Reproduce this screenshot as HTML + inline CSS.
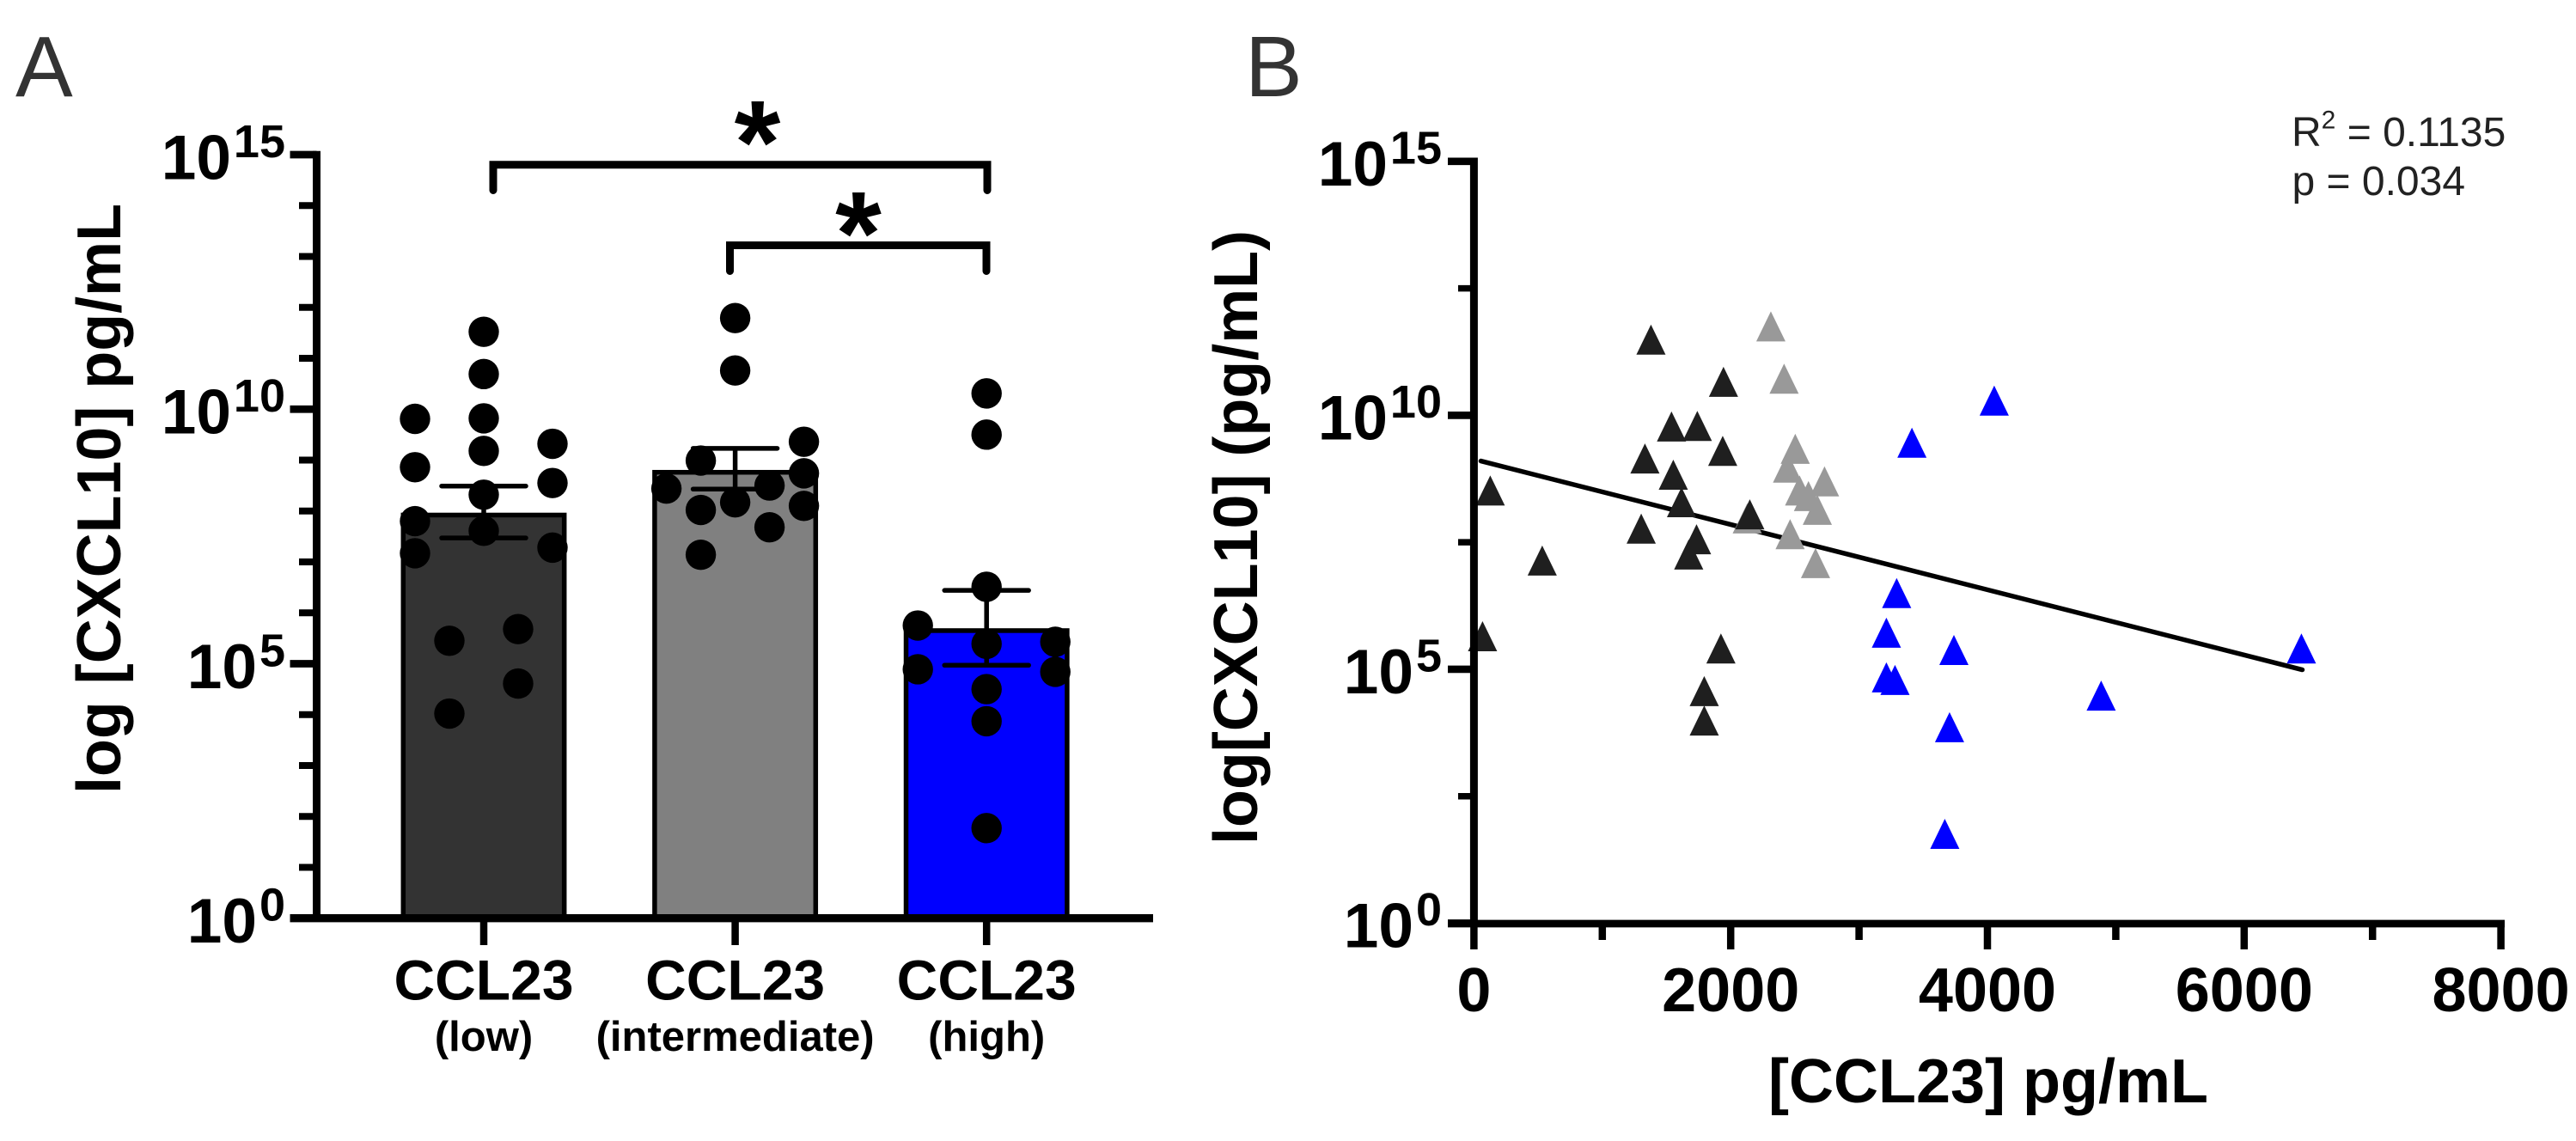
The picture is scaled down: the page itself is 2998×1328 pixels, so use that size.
<!DOCTYPE html>
<html lang="en">
<head>
<meta charset="utf-8">
<title>CXCL10 vs CCL23</title>
<style>
html,body{margin:0;padding:0;background:#fff;width:2998px;height:1328px;overflow:hidden}
svg{display:block}
text{font-family:"Liberation Sans",Arial,sans-serif}
.b{font-weight:bold;fill:#000}
</style>
</head>
<body>
<svg id="figure" xmlns="http://www.w3.org/2000/svg" width="2998" height="1328" viewBox="0 0 2998 1328">
  <rect x="0" y="0" width="2998" height="1328" fill="#fff"/>
  <text x="18" y="112" font-size="100" fill="#333">A</text>
  <text x="1449" y="112" font-size="100" fill="#333">B</text>

  <g id="panelA"></g>
  <g id="panelB"></g>

  <text class="b" font-size="72" text-anchor="middle" textLength="687" lengthAdjust="spacingAndGlyphs" transform="translate(140 580.5) rotate(-90)">log [CXCL10] pg/mL</text>
  <text class="b" font-size="72" text-anchor="middle" textLength="715" lengthAdjust="spacingAndGlyphs" transform="translate(1463 625.5) rotate(-90)">log[CXCL10] (pg/mL)</text>
  <text class="b" font-size="72" text-anchor="middle" x="2314" y="1283">[CCL23] pg/mL</text>

  <text x="2667" y="170" font-size="48" fill="#222">R<tspan font-size="30" dy="-20.7">2</tspan><tspan dy="20.7"> = 0.1135</tspan></text>
  <text x="2667.5" y="227" font-size="48" fill="#222">p = 0.034</text>

  <text class="b" font-size="138" text-anchor="middle" x="881.5" y="213">*</text>
  <text class="b" font-size="138" text-anchor="middle" x="999" y="319">*</text>
</svg>

<script>
/* ---------- Panel A data (values are log10 of pg/mL) ---------- */
const barCategories = ["CCL23", "CCL23", "CCL23"];
const barSubLabels = ["(low)", "(intermediate)", "(high)"];
const barColors = ["#333333", "#808080", "#0000ff"];
const barMeans = [7.92, 8.76, 5.65];
const barErrUpper = [8.49, 9.23, 6.44];
const barErrLower = [7.47, 8.43, 4.97];
const lowDots = [11.52, 10.69, 9.82, 9.81, 9.18, 9.32, 8.86, 8.55, 8.32, 7.80, 7.61, 7.17, 7.28, 5.68, 5.45, 4.61, 4.02];
const lowDotColumns = [0, 0, 0, -1, 0, 1, -1, 1, 0, -1, 0, -1, 1, 0.5, -0.5, 0.5, -0.5];
const intermediateDots = [11.79, 10.76, 9.36, 8.99, 8.74, 8.50, 8.44, 8.17, 8.02, 8.10, 7.68, 7.14];
const intermediateDotColumns = [0, 0, 1, -0.5, 1, 0.5, -1, 0, -0.5, 1, 0.5, -0.5];
const highDots = [10.31, 9.50, 6.51, 5.75, 5.43, 5.39, 4.89, 4.84, 4.50, 3.87, 1.77];
const highDotColumns = [0, 0, 0, -1, 1, 0, -1, 1, 0, 0, 0];
const yMajorExponents = [0, 5, 10, 15];
const yMajorLabels = ["0", "5", "10", "15"];
const yMinorExponentsA = [1, 2, 3, 4, 6, 7, 8, 9, 11, 12, 13, 14];
const yMinorExponentsB = [2.5, 7.5, 12.5];

/* ---------- Panel B data ---------- */
const xMajorTicks = [0, 2000, 4000, 6000, 8000];
const xTickLabels = ["0", "2000", "4000", "6000", "8000"];
const xMinorTicks = [1000, 3000, 5000, 7000];
const lowCCL23 = [1379, 1944, 1539, 1740, 1938, 1332, 1553, 127, 1617, 2149, 1303, 1734, 1673, 532, 67, 1924, 1794, 1794];
const lowCXCL10 = [11.49, 10.66, 9.78, 9.79, 9.30, 9.15, 8.83, 8.52, 8.29, 8.05, 7.77, 7.56, 7.26, 7.14, 5.65, 5.41, 4.57, 3.99];
const midCCL23 = [2313, 2416, 2503, 2443, 2731, 2537, 2606, 2675, 2129, 2463, 2661];
const midCXCL10 = [11.75, 10.72, 9.34, 8.97, 8.70, 8.52, 8.41, 8.14, 7.97, 7.66, 7.09];
const highCCL23 = [4053, 3412, 3293, 3213, 3739, 6446, 3213, 3280, 4886, 3705, 3668];
const highCXCL10 = [10.29, 9.46, 6.50, 5.72, 5.38, 5.41, 4.84, 4.79, 4.48, 3.86, 1.76];
const fitLineX = [54, 6453];
const fitLineY = [9.10, 4.99];

/* ---------- Helpers and scales ---------- */
const NS = "http://www.w3.org/2000/svg";
function make(parent, tag, attrs) {
  const el = document.createElementNS(NS, tag);
  for (const k in attrs) el.setAttribute(k, attrs[k]);
  parent.appendChild(el);
  return el;
}
const yA = e => 1068.7 - e * (1068.7 - 180) / 15;
const bandA = i => 563 + i * 292.6;
const yB = e => 1074.5 - e * (1074.5 - 187.8) / 15;
const xB = v => 1715.4 + v * (2910.6 - 1715.4) / 8000;

function tickLabel(parent, right, baseline, sup) {
  const t = make(parent, "text", {x: right, y: baseline, "text-anchor": "end", "font-size": 73, "class": "b"});
  
  
  const a = make(t, "tspan", {});
  a.textContent = "10";
  const b = make(t, "tspan", {"font-size": 54, dy: -25.5, dx: 3});
  b.textContent = sup;
}

/* ---------- Panel A ---------- */
const A = document.getElementById("panelA");
const dotSets = [lowDots, intermediateDots, highDots];
const dotColumnSets = [lowDotColumns, intermediateDotColumns, highDotColumns];

barMeans.forEach((m, i) => {
  const c = bandA(i);
  const bar = make(A, "rect", {x: c - 93.7, y: yA(m), width: 187.4, height: 1068.7 - yA(m), fill: barColors[i], stroke: "#000", "stroke-width": 5.5});
  
  
});
dotSets.forEach((set, i) => {
  set.forEach((v, j) => {
    const d = make(A, "circle", {cx: bandA(i) + dotColumnSets[i][j] * 80, cy: yA(v), r: 17.7, fill: "#000"});
    
    
  });
});
barMeans.forEach((m, i) => {
  const c = bandA(i);
  const path = "M" + c + " " + yA(barErrUpper[i]) + "V" + yA(barErrLower[i]) +
    "M" + (c - 49) + " " + yA(barErrUpper[i]) + "H" + (c + 49) +
    "M" + (c - 49) + " " + yA(barErrLower[i]) + "H" + (c + 49);
  const e = make(A, "path", {d: path, stroke: "#000", "stroke-width": 5.5, "stroke-linecap": "round", fill: "none"});
  
  
});

const axisAY = make(A, "line", {x1: 368.5, x2: 368.5, y1: 175.7, y2: 1073, stroke: "#000", "stroke-width": 9});


const axisAX = make(A, "line", {x1: 337.5, x2: 1342, y1: 1068.7, y2: 1068.7, stroke: "#000", "stroke-width": 9.3});



yMajorExponents.forEach((e, i) => {
  const t = make(A, "line", {x1: 337.5, x2: 368.5, y1: yA(e), y2: yA(e), stroke: "#000", "stroke-width": 8.7});
  
  
  tickLabel(A, 332, yA(e) + 28.3, yMajorLabels[i]);
});
yMinorExponentsA.forEach(e => {
  const t = make(A, "line", {x1: 348, x2: 368.5, y1: yA(e), y2: yA(e), stroke: "#000", "stroke-width": 8});
  
  
});
barCategories.forEach((cat, i) => {
  const c = bandA(i);
  const t = make(A, "line", {x1: c, x2: c, y1: 1068.7, y2: 1100, stroke: "#000", "stroke-width": 8.5});
  
  
  const l = make(A, "text", {x: c, y: 1163.5, "text-anchor": "middle", "font-size": 66, "class": "b"});
  
  
  l.textContent = cat;
  const s = make(A, "text", {x: c, y: 1223, "text-anchor": "middle", "font-size": 49, "class": "b"});
  
  
  s.textContent = barSubLabels[i];
});

const bracketOuter = make(A, "path", {d: "M574 221.5V191.7H1149V221.5", fill: "none", stroke: "#000", "stroke-width": 9, "stroke-linecap": "round"});


const bracketInner = make(A, "path", {d: "M849.5 315.5V285.5H1148V315.5", fill: "none", stroke: "#000", "stroke-width": 9, "stroke-linecap": "round"});



/* ---------- Panel B ---------- */
const B = document.getElementById("panelB");
const fit = make(B, "line", {x1: xB(fitLineX[0]), y1: yB(fitLineY[0]), x2: xB(fitLineX[1]), y2: yB(fitLineY[1]), stroke: "#000", "stroke-width": 5.5, "stroke-linecap": "round"});



function triangles(xs, ys, color, name) {
  xs.forEach((v, i) => {
    const cx = xB(v), cy = yB(ys[i]);
    const p = make(B, "polygon", {points: (cx - 17) + "," + (cy + 17.5) + " " + (cx + 17) + "," + (cy + 17.5) + " " + cx + "," + (cy - 17.5), fill: color});
    
    
  });
}
triangles(midCCL23, midCXCL10, "#999999", "point-intermediate-ccl23");
triangles(lowCCL23, lowCXCL10, "#1f1f1f", "point-low-ccl23");
triangles(highCCL23, highCXCL10, "#0000ff", "point-high-ccl23");

const axisBY = make(B, "line", {x1: 1715.4, x2: 1715.4, y1: 183.5, y2: 1079, stroke: "#000", "stroke-width": 9});


const axisBX = make(B, "line", {x1: 1685, x2: 2915, y1: 1075, y2: 1075, stroke: "#000", "stroke-width": 8.7});



yMajorExponents.forEach((e, i) => {
  const t = make(B, "line", {x1: 1685, x2: 1715.4, y1: yB(e), y2: yB(e), stroke: "#000", "stroke-width": 8.7});
  
  
  tickLabel(B, 1678, yB(e) + 28.2, yMajorLabels[i]);
});
yMinorExponentsB.forEach(e => {
  const t = make(B, "line", {x1: 1697, x2: 1715.4, y1: yB(e), y2: yB(e), stroke: "#000", "stroke-width": 7.5});
  
  
});
xMajorTicks.forEach((v, i) => {
  const t = make(B, "line", {x1: xB(v), x2: xB(v), y1: 1075, y2: 1105, stroke: "#000", "stroke-width": 8.5});
  
  
  const l = make(B, "text", {x: xB(v), y: 1177, "text-anchor": "middle", "font-size": 72, "class": "b"});
  
  
  l.textContent = xTickLabels[i];
});
xMinorTicks.forEach(v => {
  const t = make(B, "line", {x1: xB(v), x2: xB(v), y1: 1075, y2: 1094, stroke: "#000", "stroke-width": 8.5});
  
  
});
</script>
</body>
</html>
